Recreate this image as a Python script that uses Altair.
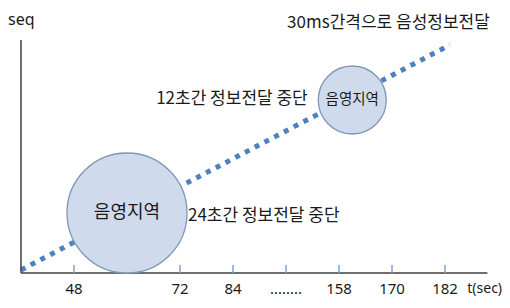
import altair as alt
import pandas as pd

FONT = "Noto Sans CJK KR"
LATIN = "Noto Sans"

# x in "slot" units (one slot per tick), y in seq units
tick_slots = [1, 2, 3, 4, 5, 6, 7, 8]
tick_labels = ["48", "", "72", "84", "........", "158", "170", "182"]

line_x = [0.0, 8.09]
line_y = [3, 228]

circle_x = [2.0, 6.25]
circle_y = [60, 173]
circle_r = [60, 34]
circle_text = ["음영지역", "음영지역"]
circle_font = [18, 14.5]

notes_x = [2.55, 3.15, 5.02]
notes_y = [174, 57, 250]
notes_text = ["12초간 정보전달 중단", "24초간 정보전달 중단", "30ms간격으로 음성정보전달"]

xs = alt.Scale(domain=[-0.245, 9.075], nice=False, zero=False)
ys = alt.Scale(domain=[-27, 265], nice=False, zero=False)

def X(f="x"):
    return alt.X(f"{f}:Q", scale=xs, axis=None)

def Y(f="y"):
    return alt.Y(f"{f}:Q", scale=ys, axis=None)

line_df = pd.DataFrame({"x": line_x, "y": line_y})
line = alt.Chart(line_df).mark_line(
    color="#4F81BD", strokeWidth=5, strokeDash=[5, 6], strokeCap="butt"
).encode(x=X(), y=Y())

circ_df = pd.DataFrame({"x": circle_x, "y": circle_y, "r": circle_r,
                        "t": circle_text, "fs": circle_font})
circ_df["area"] = (2 * circ_df["r"]) ** 2
circles = alt.Chart(circ_df).mark_circle(
    fill="#CFDBEC", stroke="#7F96B8", strokeWidth=1.3, opacity=1
).encode(x=X(), y=Y(), size=alt.Size("area:Q", scale=None, legend=None))

ctext = alt.Chart(circ_df).mark_text(font=FONT, color="#1a1a1a").encode(
    x=X(), y=Y(), text="t:N", size=alt.Size("fs:Q", scale=None, legend=None))

yaxis = alt.Chart(pd.DataFrame({"x": [0], "y": [0], "y2": [233]})).mark_rule(
    color="#404040", strokeWidth=1.5).encode(x=X(), y=Y(), y2="y2:Q")
xaxis = alt.Chart(pd.DataFrame({"x": [0], "x2": [8.8], "y": [0]})).mark_rule(
    color="#404040", strokeWidth=1.5).encode(x=X(), x2="x2:Q", y=Y())

tick_df = pd.DataFrame({"x": tick_slots, "y": [0] * 8, "y2": [8] * 8,
                        "lab": tick_labels, "ly": [-16] * 8})
ticks = alt.Chart(tick_df).mark_rule(color="#7FA3D0", strokeWidth=1.5).encode(
    x=X(), y=Y(), y2="y2:Q")
tlabels = alt.Chart(tick_df).mark_text(font=LATIN, fontSize=15, color="#1a1a1a").encode(
    x=X(), y=Y("ly"), text="lab:N")

ax_df = pd.DataFrame({"x": [-0.245, 8.42], "y": [253, -16], "t": ["seq", "t(sec)"],
                      "fs": [16, 14]})
axlabels = alt.Chart(ax_df).mark_text(font=LATIN, color="#1a1a1a",
                                      align="left").encode(
    x=X(), y=Y(), text="t:N", size=alt.Size("fs:Q", scale=None, legend=None))

notes_df = pd.DataFrame({"x": notes_x, "y": notes_y, "t": notes_text})
notes = alt.Chart(notes_df).mark_text(font=FONT, fontSize=17, color="#1a1a1a",
                                      align="left").encode(x=X(), y=Y(), text="t:N")

chart = alt.layer(line, yaxis, xaxis, ticks, circles, ctext, tlabels, axlabels, notes).properties(
    width=494, height=292, padding=0, autosize="none"
).configure_view(stroke=None)

chart.save("out.html", embed_options={"renderer": "svg", "actions": False})
